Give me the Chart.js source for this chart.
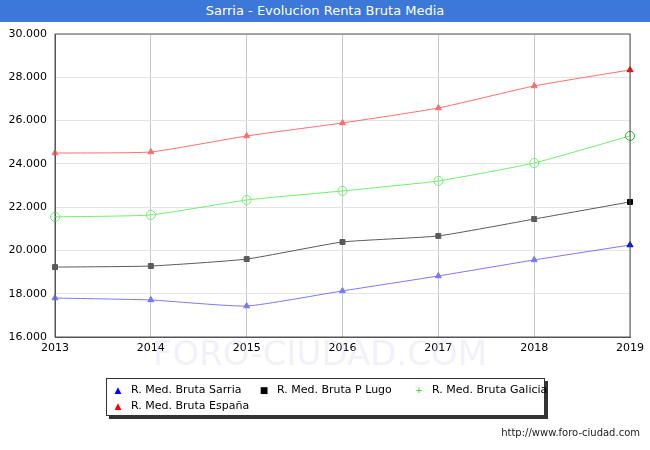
<!DOCTYPE html>
<html>
<head>
<meta charset="utf-8">
<script src="https://cdn.jsdelivr.net/npm/chart.js@4/dist/chart.umd.min.js"></script>
<style>
  body { margin: 0; font-family: "DejaVu Sans", sans-serif; }
  #wrap { position: relative; width: 650px; height: 450px; background: #fff; overflow: hidden; }
  #title { position: absolute; left: 0; top: 0; width: 650px; height: 22px; background: #3b78d8; color: #fff;
           font-size: 13px; line-height: 22px; text-align: center; }
  canvas { position: absolute; left: 0; top: 0; }
  #legend { position: absolute; left: 106px; top: 378px; width: 437px; height: 36px; background: #fff;
            border: 1px solid #333; box-shadow: 3px 3px 0 #333; font-size: 11px; }
  .it { position: absolute; white-space: nowrap; }
  .it span { display: inline-block; width: 14px; margin-right: 6px; text-align: center; font-size: 9px; }
  #url { position: absolute; right: 10px; top: 427px; font-size: 10px; color: #222; }
</style>
</head>
<body>
<div id="wrap">
  <canvas id="c" width="650" height="450"></canvas>
  <div id="title">Sarria - Evolucion Renta Bruta Media</div>
  <div id="legend">
    <div class="it" style="left:4px;top:4px"><span style="color:#00f">▲</span>R. Med. Bruta Sarria</div>
    <div class="it" style="left:150px;top:4px"><span style="color:#000">■</span>R. Med. Bruta P Lugo</div>
    <div class="it" style="left:305px;top:4px"><span style="color:#0d0">+</span>R. Med. Bruta Galicia</div>
    <div class="it" style="left:4px;top:20px"><span style="color:#f00">▲</span>R. Med. Bruta España</div>
  </div>
  <div id="url">http://www.foro-ciudad.com</div>
</div>
<script>
const years = ['2013', '2014', '2015', '2016', '2017', '2018', '2019'];
const sarria = [17800, 17710, 17430, 18130, 18820, 19560, 20250];
const lugo = [19230, 19280, 19600, 20390, 20670, 21450, 22240];
const galicia = [21550, 21640, 22330, 22750, 23210, 24040, 25290];
const espana = [24500, 24550, 25290, 25890, 26580, 27600, 28340];

function series(label, data, color, last, style) {
    return {
        label, data,
        borderColor: color, backgroundColor: data.map((v, i) => i === data.length - 1 ? last : color),
        pointBorderColor: data.map((v, i) => i === data.length - 1 ? last : color),
        pointStyle: style, pointRadius: style === 'circle' ? 4.5 : 3.5,
        borderWidth: 1, tension: 0.15, fill: false
    };
}

const watermark = {
    id: 'watermark',
    beforeDatasetsDraw(chart) {
        const ctx = chart.ctx;
        ctx.save();
        ctx.font = '34px "DejaVu Sans"';
        ctx.fillStyle = 'rgba(200,200,230,0.25)';
        ctx.textAlign = 'center';
        ctx.fillText('FORO-CIUDAD.COM', 320, 365);
        ctx.restore();
    }
};

new Chart(document.getElementById('c'), {
    type: 'line',
    data: {
        labels: years,
        datasets: [
            series('R. Med. Bruta Sarria', sarria, 'rgba(120,120,255,1)', '#0000ff', 'triangle'),
            series('R. Med. Bruta P Lugo', lugo, 'rgba(90,90,90,1)', '#000', 'rect'),
            { ...series('R. Med. Bruta Galicia', galicia, 'rgba(110,240,110,1)', '#22bb22', 'circle'), backgroundColor: 'rgba(255,255,255,0)' },
            series('R. Med. Bruta España', espana, 'rgba(255,110,110,1)', '#ff0000', 'triangle')
        ]
    },
    options: {
        responsive: false, animation: false,
        layout: { padding: { top: 34, right: 20, bottom: 93, left: 0 } },
        plugins: { legend: { display: false }, tooltip: { enabled: false } },
        scales: {
            x: {
                offset: false,
                grid: { color: '#c8c8c8', drawTicks: false },
                border: { color: '#555' },
                ticks: { color: '#000', font: { size: 11, family: 'DejaVu Sans' }, padding: 5, maxRotation: 0 },
                afterFit(s) { s.height = 20; }
            },
            y: {
                min: 16000, max: 30000,
                grid: { color: '#e4e4e4', drawTicks: false },
                border: { color: '#555' },
                ticks: { stepSize: 2000, color: '#000', font: { size: 11, family: 'DejaVu Sans' }, padding: 8,
                         callback: v => v.toLocaleString('de-DE', { minimumFractionDigits: 3 }).replace(',000', '') },
                afterFit(s) { s.width = 55; }
            }
        }
    },
    plugins: [watermark, {
        id: 'frame',
        afterDraw(chart) {
            const a = chart.chartArea, ctx = chart.ctx;
            ctx.save(); ctx.strokeStyle = '#555'; ctx.lineWidth = 1;
            ctx.strokeRect(a.left, a.top, a.right - a.left, a.bottom - a.top);
            ctx.restore();
        }
    }]
});
</script>
</body>
</html>
